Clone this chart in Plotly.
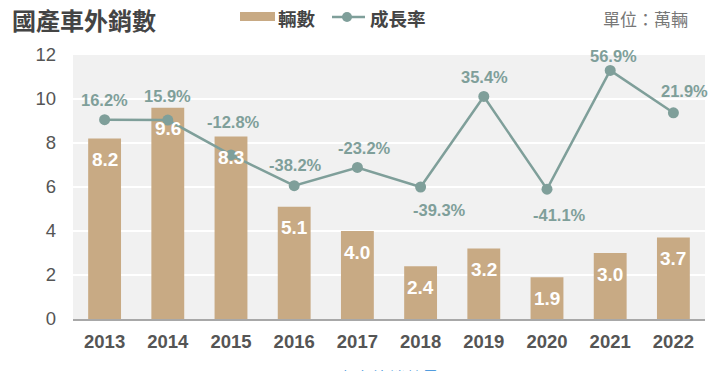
import plotly.graph_objects as go

years = ["2013", "2014", "2015", "2016", "2017", "2018", "2019", "2020", "2021", "2022"]
units = [8.2, 9.6, 8.3, 5.1, 4.0, 2.4, 3.2, 1.9, 3.0, 3.7]
growth = [16.2, 15.9, -12.8, -38.2, -23.2, -39.3, 35.4, -41.1, 56.9, 21.9]

# label placement (pixels) for growth-rate labels: style only
lab_dx = [0, 0, 2, 1, 7, 19, 1, 12, 3, 11]
lab_dy = [20, 24, 33, 21, 19, -23, 19, -26, 14, 22]

BAR_C = "#c8aa84"
LINE_C = "#7f9f9a"
FONT = "Liberation Sans, Arial, Noto Sans CJK TC"
CJK = "Noto Sans CJK TC"

OFF = 8  # page body margin
W, H = 720 - OFF, 371 - OFF
L, T = 73 - OFF, 55 - OFF
R = W - (705 - OFF)
B = H - (319 - OFF)
PW, PH = W - L - R, H - T - B


def px(xw):
    return (xw - OFF - L) / PW


def py(yw):
    return 1 - (yw - OFF - T) / PH


fig = go.Figure()
fig.add_trace(go.Bar(x=years, y=units, name="輛數", marker_color=BAR_C,
                     marker_line_width=0, yaxis="y", showlegend=False))
fig.add_trace(go.Scatter(x=years, y=growth, name="成長率", mode="lines+markers",
                         line=dict(color=LINE_C, width=2.5),
                         marker=dict(color=LINE_C, size=11), yaxis="y2", showlegend=False))

ann = []
for i, v in enumerate(units):
    ann.append(dict(x=i, y=v, xref="x", yref="y", text=f"{v:.1f}", showarrow=False,
                    yanchor="middle", yshift=-21,
                    font=dict(family=FONT, size=19, color="white", weight="bold")))
for i, g in enumerate(growth):
    ann.append(dict(x=i, y=g, xref="x", yref="y2", text=f"{g:.1f}%", showarrow=False,
                    yanchor="middle", yshift=lab_dy[i], xshift=lab_dx[i],
                    font=dict(family=FONT, size=16.5, color=LINE_C, weight="bold")))
ann.append(dict(x=px(10), y=py(19), xref="paper", yref="paper", text="國產車外銷數",
                showarrow=False, xanchor="left", yanchor="middle",
                font=dict(family=CJK, size=24, color="#444", weight="bold")))
ann.append(dict(x=px(690), y=py(18), xref="paper", yref="paper", text="單位：萬輛",
                showarrow=False, xanchor="right", yanchor="middle",
                font=dict(family=CJK, size=17, color="#777")))
# legend texts
ann.append(dict(x=px(276), y=py(18), xref="paper", yref="paper", text="輛數",
                showarrow=False, xanchor="left", yanchor="middle",
                font=dict(family=CJK, size=18.5, color="#444", weight="bold")))
ann.append(dict(x=px(368), y=py(18), xref="paper", yref="paper", text="成長率",
                showarrow=False, xanchor="left", yanchor="middle",
                font=dict(family=CJK, size=18.5, color="#444", weight="bold")))
ann.append(dict(text="圖8  國產車外銷數量", xref="paper", yref="paper", x=px(362), y=py(363),
                showarrow=False, xanchor="center", yanchor="top",
                font=dict(family=CJK, size=17, color="#2b8ad8")))

shapes = [
    dict(type="rect", xref="paper", yref="paper", x0=px(240), x1=px(275),
         y0=py(21), y1=py(12), fillcolor=BAR_C, line_width=0),
    dict(type="line", xref="paper", yref="paper", x0=px(332), x1=px(365),
         y0=py(17), y1=py(17), line=dict(color=LINE_C, width=2.5)),
    dict(type="circle", xref="paper", yref="paper", x0=px(342), x1=px(352),
         y0=py(22), y1=py(12), fillcolor=LINE_C, line_width=0),
]

fig.update_layout(
    width=W, height=H,
    margin=dict(l=L, r=R, t=T, b=B),
    paper_bgcolor="white", plot_bgcolor="#f1f1f1",
    bargap=0.48,
    showlegend=False,
    xaxis=dict(type="category", range=[-0.5, len(years) - 0.5], showgrid=False,
               showline=True, linecolor="#a8a8a8", linewidth=2,
               tickfont=dict(family=FONT, size=18.5, color="#555", weight="bold"),
               ticks="", ticklabelstandoff=5, fixedrange=True),
    yaxis=dict(range=[0, 12], dtick=2, showgrid=True, gridcolor="white", gridwidth=2,
               zeroline=False, tickfont=dict(family=FONT, size=18.5, color="#555"),
               ticklabelstandoff=16),
    yaxis2=dict(range=[-148.2, 69.6], overlaying="y", side="right", visible=False),
    annotations=ann,
    shapes=shapes,
)

fig.write_html("out.html")
